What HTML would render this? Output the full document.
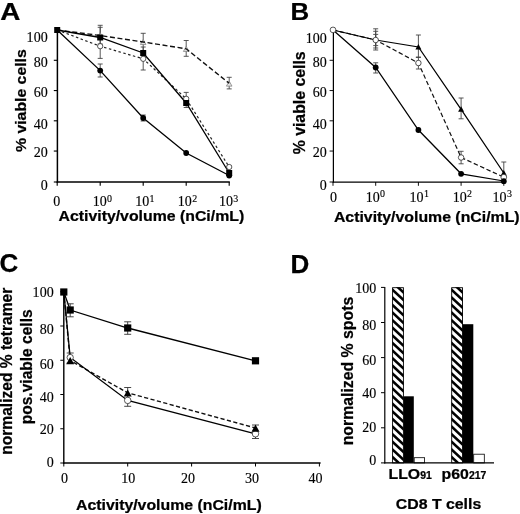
<!DOCTYPE html>
<html lang="en"><head><meta charset="utf-8"><title>Figure</title>
<style>html,body{margin:0;padding:0;background:#fff}svg{display:block}</style></head><body>
<svg width="520" height="514" viewBox="0 0 520 514">
<rect width="520" height="514" fill="#fff"/>
<text transform="translate(0.2,19.7) scale(1.2,1)" font-size="23.2" font-family="Liberation Sans, sans-serif" font-weight="bold" stroke="#000" stroke-width="0.25">A</text>
<text transform="translate(290.6,19.8) scale(1.1,1)" font-size="23.5" font-family="Liberation Sans, sans-serif" font-weight="bold" stroke="#000" stroke-width="0.25">B</text>
<text x="-0.4" y="272" font-size="26" font-family="Liberation Sans, sans-serif" font-weight="bold" stroke="#000" stroke-width="0.25" text-anchor="start">C</text>
<text x="290.5" y="272.9" font-size="26" font-family="Liberation Sans, sans-serif" font-weight="bold" stroke="#000" stroke-width="0.25" text-anchor="start">D</text>
<line x1="57.400000000000006" y1="30" x2="57.400000000000006" y2="182.75" stroke="#000" stroke-width="1.5"/>
<line x1="56.650000000000006" y1="182.0" x2="229.79999999999998" y2="182.0" stroke="#000" stroke-width="1.5"/>
<line x1="53.800000000000004" y1="182.0" x2="57.2" y2="182.0" stroke="#000" stroke-width="1.125"/>
<line x1="53.800000000000004" y1="151.05" x2="57.2" y2="151.05" stroke="#000" stroke-width="1.125"/>
<line x1="53.800000000000004" y1="120.80000000000001" x2="57.2" y2="120.80000000000001" stroke="#000" stroke-width="1.125"/>
<line x1="53.800000000000004" y1="90.55000000000001" x2="57.2" y2="90.55000000000001" stroke="#000" stroke-width="1.125"/>
<line x1="53.800000000000004" y1="60.30000000000001" x2="57.2" y2="60.30000000000001" stroke="#000" stroke-width="1.125"/>
<line x1="57.2" y1="182.0" x2="57.2" y2="185.8" stroke="#000" stroke-width="1.125"/>
<line x1="100.2" y1="182.0" x2="100.2" y2="185.8" stroke="#000" stroke-width="1.125"/>
<line x1="143.2" y1="182.0" x2="143.2" y2="185.8" stroke="#000" stroke-width="1.125"/>
<line x1="186.2" y1="182.0" x2="186.2" y2="185.8" stroke="#000" stroke-width="1.125"/>
<line x1="229.2" y1="182.0" x2="229.2" y2="185.8" stroke="#000" stroke-width="1.125"/>
<text transform="translate(47.7,190.4) scale(0.95,1)" font-size="14.8" font-family="Liberation Serif, serif" stroke="#000" stroke-width="0.15" text-anchor="end" >0</text>
<text transform="translate(47.7,157) scale(0.95,1)" font-size="14.8" font-family="Liberation Serif, serif" stroke="#000" stroke-width="0.15" text-anchor="end" >20</text>
<text transform="translate(47.7,128.6) scale(0.95,1)" font-size="14.8" font-family="Liberation Serif, serif" stroke="#000" stroke-width="0.15" text-anchor="end" >40</text>
<text transform="translate(47.7,97) scale(0.95,1)" font-size="14.8" font-family="Liberation Serif, serif" stroke="#000" stroke-width="0.15" text-anchor="end" >60</text>
<text transform="translate(47.7,66.8) scale(0.95,1)" font-size="14.8" font-family="Liberation Serif, serif" stroke="#000" stroke-width="0.15" text-anchor="end" >80</text>
<text transform="translate(47.7,42.2) scale(0.95,1)" font-size="14.8" font-family="Liberation Serif, serif" stroke="#000" stroke-width="0.15" text-anchor="end" >100</text>
<text transform="translate(56.800000000000004,205.8) scale(0.95,1)" font-size="14.8" font-family="Liberation Serif, serif" stroke="#000" stroke-width="0.15" text-anchor="middle" >0</text>
<text transform="translate(92.7,205.8) scale(0.95,1)" font-size="14.8" font-family="Liberation Serif, serif" stroke="#000" stroke-width="0.15" text-anchor="start">10<tspan font-size="10.5" dy="-4.3" dx="0.4">0</tspan></text>
<text transform="translate(135.15,205.8) scale(0.95,1)" font-size="14.8" font-family="Liberation Serif, serif" stroke="#000" stroke-width="0.15" text-anchor="start">10<tspan font-size="10.5" dy="-4.3" dx="0.4">1</tspan></text>
<text transform="translate(177.8,205.8) scale(0.95,1)" font-size="14.8" font-family="Liberation Serif, serif" stroke="#000" stroke-width="0.15" text-anchor="start">10<tspan font-size="10.5" dy="-4.3" dx="0.4">2</tspan></text>
<text transform="translate(218.95,205.8) scale(0.95,1)" font-size="14.8" font-family="Liberation Serif, serif" stroke="#000" stroke-width="0.15" text-anchor="start">10<tspan font-size="10.5" dy="-4.3" dx="0.4">3</tspan></text>
<text transform="translate(58.5,221.3) scale(1.043,1)" font-size="15.2" font-family="Liberation Sans, sans-serif" font-weight="bold" stroke="#000" stroke-width="0.25" text-anchor="start">Activity/volume (nCi/mL)</text>
<text transform="translate(25.6,152) rotate(-90) scale(1.04,1)" font-size="15.2" font-family="Liberation Sans, sans-serif" font-weight="bold" stroke="#000" stroke-width="0.25" text-anchor="start">% viable cells</text>
<line x1="100.2" y1="25.3" x2="100.2" y2="46" stroke="#444" stroke-width="0.9"/>
<line x1="97.7" y1="25.3" x2="102.7" y2="25.3" stroke="#444" stroke-width="0.9"/>
<line x1="97.7" y1="46" x2="102.7" y2="46" stroke="#444" stroke-width="0.9"/>
<line x1="100.2" y1="27.3" x2="100.2" y2="44" stroke="#444" stroke-width="0.9"/>
<line x1="97.7" y1="27.3" x2="102.7" y2="27.3" stroke="#444" stroke-width="0.9"/>
<line x1="97.7" y1="44" x2="102.7" y2="44" stroke="#444" stroke-width="0.9"/>
<line x1="100.2" y1="46" x2="100.2" y2="58.4" stroke="#444" stroke-width="0.9"/>
<line x1="97.7" y1="46" x2="102.7" y2="46" stroke="#444" stroke-width="0.9"/>
<line x1="97.7" y1="58.4" x2="102.7" y2="58.4" stroke="#444" stroke-width="0.9"/>
<line x1="100.2" y1="64" x2="100.2" y2="77" stroke="#444" stroke-width="0.9"/>
<line x1="97.7" y1="64" x2="102.7" y2="64" stroke="#444" stroke-width="0.9"/>
<line x1="97.7" y1="77" x2="102.7" y2="77" stroke="#444" stroke-width="0.9"/>
<line x1="143.2" y1="33.3" x2="143.2" y2="51.3" stroke="#444" stroke-width="0.9"/>
<line x1="140.7" y1="33.3" x2="145.7" y2="33.3" stroke="#444" stroke-width="0.9"/>
<line x1="140.7" y1="51.3" x2="145.7" y2="51.3" stroke="#444" stroke-width="0.9"/>
<line x1="143.2" y1="47" x2="143.2" y2="70" stroke="#444" stroke-width="0.9"/>
<line x1="140.7" y1="47" x2="145.7" y2="47" stroke="#444" stroke-width="0.9"/>
<line x1="140.7" y1="70" x2="145.7" y2="70" stroke="#444" stroke-width="0.9"/>
<line x1="143.2" y1="115" x2="143.2" y2="121" stroke="#444" stroke-width="0.9"/>
<line x1="140.7" y1="115" x2="145.7" y2="115" stroke="#444" stroke-width="0.9"/>
<line x1="140.7" y1="121" x2="145.7" y2="121" stroke="#444" stroke-width="0.9"/>
<line x1="186.2" y1="40.5" x2="186.2" y2="56.3" stroke="#444" stroke-width="0.9"/>
<line x1="183.7" y1="40.5" x2="188.7" y2="40.5" stroke="#444" stroke-width="0.9"/>
<line x1="183.7" y1="56.3" x2="188.7" y2="56.3" stroke="#444" stroke-width="0.9"/>
<line x1="186.2" y1="92.4" x2="186.2" y2="107.5" stroke="#444" stroke-width="0.9"/>
<line x1="183.7" y1="92.4" x2="188.7" y2="92.4" stroke="#444" stroke-width="0.9"/>
<line x1="183.7" y1="107.5" x2="188.7" y2="107.5" stroke="#444" stroke-width="0.9"/>
<line x1="229.2" y1="77.3" x2="229.2" y2="88.9" stroke="#444" stroke-width="0.9"/>
<line x1="226.7" y1="77.3" x2="231.7" y2="77.3" stroke="#444" stroke-width="0.9"/>
<line x1="226.7" y1="88.9" x2="231.7" y2="88.9" stroke="#444" stroke-width="0.9"/>
<polygon points="100.2,32.7 97.4,37.74 103.0,37.74" fill="#e4e4e4" stroke="#777" stroke-width="0.7"/>
<polygon points="143.2,39.5 140.39999999999998,44.54 146.0,44.54" fill="#e4e4e4" stroke="#777" stroke-width="0.7"/>
<polygon points="186.2,46.400000000000006 183.39999999999998,51.440000000000005 189.0,51.440000000000005" fill="#e4e4e4" stroke="#777" stroke-width="0.7"/>
<polygon points="229.2,81.10000000000001 226.39999999999998,86.14 232.0,86.14" fill="#e4e4e4" stroke="#777" stroke-width="0.7"/>
<polyline points="57.2,30 100.2,35.5 143.2,42 186.2,48.8 229.2,83.3" fill="none" stroke="#111" stroke-width="1.4" stroke-dasharray="5,2.6"/>
<polyline points="57.2,30 100.2,46.2 143.2,58.8 186.2,98.8 229.2,167" fill="none" stroke="#222" stroke-width="1.2" stroke-dasharray="2.5,2.5"/>
<polyline points="57.2,30 100.2,37.5 143.2,53 186.2,103 229.2,173" fill="none" stroke="#000" stroke-width="1.3"/>
<polyline points="57.2,30 100.2,70.6 143.2,118 186.2,153 229.2,175.5" fill="none" stroke="#000" stroke-width="1.3"/>
<circle cx="100.2" cy="46.2" r="2.65" fill="#fff" stroke="#111" stroke-width="0.7"/>
<circle cx="143.2" cy="58.8" r="2.65" fill="#fff" stroke="#111" stroke-width="0.7"/>
<circle cx="186.2" cy="98.8" r="2.65" fill="#fff" stroke="#111" stroke-width="0.7"/>
<circle cx="229.2" cy="167" r="2.65" fill="#fff" stroke="#111" stroke-width="0.7"/>
<rect x="54.2" y="27.0" width="6" height="6" fill="#000"/>
<rect x="97.2" y="34.5" width="6" height="6" fill="#000"/>
<rect x="140.2" y="50.0" width="6" height="6" fill="#000"/>
<rect x="183.2" y="100.0" width="6" height="6" fill="#000"/>
<rect x="226.2" y="170.0" width="6" height="6" fill="#000"/>
<circle cx="100.2" cy="70.6" r="2.9" fill="#000"/>
<circle cx="143.2" cy="118" r="2.9" fill="#000"/>
<circle cx="186.2" cy="153" r="2.9" fill="#000"/>
<circle cx="229.2" cy="175.5" r="2.9" fill="#000"/>
<line x1="333.4" y1="30" x2="333.4" y2="182.625" stroke="#000" stroke-width="1.25"/>
<line x1="332.775" y1="182.0" x2="504.40000000000003" y2="182.0" stroke="#000" stroke-width="1.25"/>
<line x1="329.6" y1="182.0" x2="333.0" y2="182.0" stroke="#000" stroke-width="0.9375"/>
<line x1="329.6" y1="151.05" x2="333.0" y2="151.05" stroke="#000" stroke-width="0.9375"/>
<line x1="329.6" y1="120.80000000000001" x2="333.0" y2="120.80000000000001" stroke="#000" stroke-width="0.9375"/>
<line x1="329.6" y1="90.55000000000001" x2="333.0" y2="90.55000000000001" stroke="#000" stroke-width="0.9375"/>
<line x1="329.6" y1="60.30000000000001" x2="333.0" y2="60.30000000000001" stroke="#000" stroke-width="0.9375"/>
<line x1="333.0" y1="182.0" x2="333.0" y2="185.8" stroke="#000" stroke-width="0.9375"/>
<line x1="375.7" y1="182.0" x2="375.7" y2="185.8" stroke="#000" stroke-width="0.9375"/>
<line x1="418.4" y1="182.0" x2="418.4" y2="185.8" stroke="#000" stroke-width="0.9375"/>
<line x1="461.1" y1="182.0" x2="461.1" y2="185.8" stroke="#000" stroke-width="0.9375"/>
<line x1="503.8" y1="182.0" x2="503.8" y2="185.8" stroke="#000" stroke-width="0.9375"/>
<text transform="translate(326.8,190.4) scale(0.95,1)" font-size="14.8" font-family="Liberation Serif, serif" stroke="#000" stroke-width="0.15" text-anchor="end" >0</text>
<text transform="translate(326.8,157) scale(0.95,1)" font-size="14.8" font-family="Liberation Serif, serif" stroke="#000" stroke-width="0.15" text-anchor="end" >20</text>
<text transform="translate(326.8,128.6) scale(0.95,1)" font-size="14.8" font-family="Liberation Serif, serif" stroke="#000" stroke-width="0.15" text-anchor="end" >40</text>
<text transform="translate(326.8,97.4) scale(0.95,1)" font-size="14.8" font-family="Liberation Serif, serif" stroke="#000" stroke-width="0.15" text-anchor="end" >60</text>
<text transform="translate(326.8,67.4) scale(0.95,1)" font-size="14.8" font-family="Liberation Serif, serif" stroke="#000" stroke-width="0.15" text-anchor="end" >80</text>
<text transform="translate(326.8,42.7) scale(0.95,1)" font-size="14.8" font-family="Liberation Serif, serif" stroke="#000" stroke-width="0.15" text-anchor="end" >100</text>
<text transform="translate(333.6,201.7) scale(0.95,1)" font-size="14.8" font-family="Liberation Serif, serif" stroke="#000" stroke-width="0.15" text-anchor="middle" >0</text>
<text transform="translate(365.7,201.7) scale(0.95,1)" font-size="14.8" font-family="Liberation Serif, serif" stroke="#000" stroke-width="0.15" text-anchor="start">10<tspan font-size="10.5" dy="-4.3" dx="0.4">0</tspan></text>
<text transform="translate(409.5,201.7) scale(0.95,1)" font-size="14.8" font-family="Liberation Serif, serif" stroke="#000" stroke-width="0.15" text-anchor="start">10<tspan font-size="10.5" dy="-4.3" dx="0.4">1</tspan></text>
<text transform="translate(452.7,201.7) scale(0.95,1)" font-size="14.8" font-family="Liberation Serif, serif" stroke="#000" stroke-width="0.15" text-anchor="start">10<tspan font-size="10.5" dy="-4.3" dx="0.4">2</tspan></text>
<text transform="translate(492.5,201.7) scale(0.95,1)" font-size="14.8" font-family="Liberation Serif, serif" stroke="#000" stroke-width="0.15" text-anchor="start">10<tspan font-size="10.5" dy="-4.3" dx="0.4">3</tspan></text>
<text transform="translate(333.9,221.5) scale(1.043,1)" font-size="15.2" font-family="Liberation Sans, sans-serif" font-weight="bold" stroke="#000" stroke-width="0.25" text-anchor="start">Activity/volume (nCi/mL)</text>
<text transform="translate(305.2,154.3) rotate(-90) scale(0.965,1)" font-size="16.4" font-family="Liberation Sans, sans-serif" font-weight="bold" stroke="#000" stroke-width="0.25" text-anchor="start">% viable cells</text>
<polyline points="333.0,30 375.7,40 418.4,63 461.1,157.5 503.8,177.2" fill="none" stroke="#111" stroke-width="1.2" stroke-dasharray="4.5,2.5"/>
<polyline points="333.0,30 375.7,40 418.4,47 461.1,109.3 503.8,173" fill="none" stroke="#000" stroke-width="1.25"/>
<polyline points="333.0,30 375.7,67.5 418.4,130 461.1,173.8 503.8,181" fill="none" stroke="#000" stroke-width="1.25"/>
<line x1="375.7" y1="28.8" x2="375.7" y2="50" stroke="#444" stroke-width="0.9"/>
<line x1="373.2" y1="28.8" x2="378.2" y2="28.8" stroke="#444" stroke-width="0.9"/>
<line x1="373.2" y1="50" x2="378.2" y2="50" stroke="#444" stroke-width="0.9"/>
<line x1="375.7" y1="31.3" x2="375.7" y2="48" stroke="#444" stroke-width="0.9"/>
<line x1="373.2" y1="31.3" x2="378.2" y2="31.3" stroke="#444" stroke-width="0.9"/>
<line x1="373.2" y1="48" x2="378.2" y2="48" stroke="#444" stroke-width="0.9"/>
<line x1="375.7" y1="34.4" x2="375.7" y2="45.6" stroke="#444" stroke-width="0.9"/>
<line x1="373.2" y1="34.4" x2="378.2" y2="34.4" stroke="#444" stroke-width="0.9"/>
<line x1="373.2" y1="45.6" x2="378.2" y2="45.6" stroke="#444" stroke-width="0.9"/>
<line x1="375.7" y1="62.8" x2="375.7" y2="73" stroke="#444" stroke-width="0.9"/>
<line x1="373.2" y1="62.8" x2="378.2" y2="62.8" stroke="#444" stroke-width="0.9"/>
<line x1="373.2" y1="73" x2="378.2" y2="73" stroke="#444" stroke-width="0.9"/>
<line x1="418.4" y1="35" x2="418.4" y2="57.5" stroke="#444" stroke-width="0.9"/>
<line x1="415.9" y1="35" x2="420.9" y2="35" stroke="#444" stroke-width="0.9"/>
<line x1="415.9" y1="57.5" x2="420.9" y2="57.5" stroke="#444" stroke-width="0.9"/>
<line x1="418.4" y1="57" x2="418.4" y2="69" stroke="#444" stroke-width="0.9"/>
<line x1="415.9" y1="57" x2="420.9" y2="57" stroke="#444" stroke-width="0.9"/>
<line x1="415.9" y1="69" x2="420.9" y2="69" stroke="#444" stroke-width="0.9"/>
<line x1="461.1" y1="98" x2="461.1" y2="118.8" stroke="#444" stroke-width="0.9"/>
<line x1="458.6" y1="98" x2="463.6" y2="98" stroke="#444" stroke-width="0.9"/>
<line x1="458.6" y1="118.8" x2="463.6" y2="118.8" stroke="#444" stroke-width="0.9"/>
<line x1="461.1" y1="151.3" x2="461.1" y2="163.8" stroke="#444" stroke-width="0.9"/>
<line x1="458.6" y1="151.3" x2="463.6" y2="151.3" stroke="#444" stroke-width="0.9"/>
<line x1="458.6" y1="163.8" x2="463.6" y2="163.8" stroke="#444" stroke-width="0.9"/>
<line x1="503.8" y1="162" x2="503.8" y2="176" stroke="#444" stroke-width="0.9"/>
<line x1="501.3" y1="162" x2="506.3" y2="162" stroke="#444" stroke-width="0.9"/>
<line x1="501.3" y1="176" x2="506.3" y2="176" stroke="#444" stroke-width="0.9"/>
<polygon points="418.4,44 415.4,49.4 421.4,49.4" fill="#000"/>
<polygon points="461.1,106.3 458.1,111.7 464.1,111.7" fill="#000"/>
<polygon points="503.8,170 500.8,175.4 506.8,175.4" fill="#000"/>
<circle cx="333.0" cy="29.9" r="2.85" fill="#fff" stroke="#111" stroke-width="0.7"/>
<circle cx="375.7" cy="40" r="2.75" fill="#fff" stroke="#111" stroke-width="0.7"/>
<circle cx="418.4" cy="63" r="2.75" fill="#fff" stroke="#111" stroke-width="0.7"/>
<circle cx="461.1" cy="157.5" r="2.75" fill="#fff" stroke="#111" stroke-width="0.7"/>
<circle cx="503.8" cy="177.2" r="2.85" fill="#fff" stroke="#111" stroke-width="0.7"/>
<circle cx="375.7" cy="67.5" r="2.9" fill="#000"/>
<circle cx="418.4" cy="130" r="2.9" fill="#000"/>
<circle cx="461.1" cy="173.8" r="2.9" fill="#000"/>
<circle cx="503.8" cy="181.2" r="2.9" fill="#000"/>
<line x1="63.8" y1="291" x2="63.8" y2="463.7" stroke="#000" stroke-width="1.4"/>
<line x1="63.099999999999994" y1="463" x2="320.6" y2="463" stroke="#000" stroke-width="1.4"/>
<line x1="60.3" y1="463.0" x2="63.8" y2="463.0" stroke="#000" stroke-width="1"/>
<line x1="60.3" y1="428.75" x2="63.8" y2="428.75" stroke="#000" stroke-width="1"/>
<line x1="60.3" y1="394.5" x2="63.8" y2="394.5" stroke="#000" stroke-width="1"/>
<line x1="60.3" y1="360.25" x2="63.8" y2="360.25" stroke="#000" stroke-width="1"/>
<line x1="60.3" y1="326.0" x2="63.8" y2="326.0" stroke="#000" stroke-width="1"/>
<line x1="60.3" y1="291.75" x2="63.8" y2="291.75" stroke="#000" stroke-width="1"/>
<line x1="63.8" y1="463" x2="63.8" y2="466.5" stroke="#000" stroke-width="1"/>
<text transform="translate(64.5,483.3) scale(0.95,1)" font-size="14.8" font-family="Liberation Serif, serif" stroke="#000" stroke-width="0.15" text-anchor="middle" >0</text>
<line x1="127.7" y1="463" x2="127.7" y2="466.5" stroke="#000" stroke-width="1"/>
<text transform="translate(128.2,483.3) scale(0.95,1)" font-size="14.8" font-family="Liberation Serif, serif" stroke="#000" stroke-width="0.15" text-anchor="middle" >10</text>
<line x1="191.6" y1="463" x2="191.6" y2="466.5" stroke="#000" stroke-width="1"/>
<text transform="translate(187.9,483.3) scale(0.95,1)" font-size="14.8" font-family="Liberation Serif, serif" stroke="#000" stroke-width="0.15" text-anchor="middle" >20</text>
<line x1="255.5" y1="463" x2="255.5" y2="466.5" stroke="#000" stroke-width="1"/>
<text transform="translate(252.0,483.3) scale(0.95,1)" font-size="14.8" font-family="Liberation Serif, serif" stroke="#000" stroke-width="0.15" text-anchor="middle" >30</text>
<line x1="319.4" y1="463" x2="319.4" y2="466.5" stroke="#000" stroke-width="1"/>
<text transform="translate(315.5,483.3) scale(0.95,1)" font-size="14.8" font-family="Liberation Serif, serif" stroke="#000" stroke-width="0.15" text-anchor="middle" >40</text>
<text transform="translate(53.7,467.4) scale(0.95,1)" font-size="14.8" font-family="Liberation Serif, serif" stroke="#000" stroke-width="0.15" text-anchor="end" >0</text>
<text transform="translate(53.7,434.4) scale(0.95,1)" font-size="14.8" font-family="Liberation Serif, serif" stroke="#000" stroke-width="0.15" text-anchor="end" >20</text>
<text transform="translate(53.7,401.9) scale(0.95,1)" font-size="14.8" font-family="Liberation Serif, serif" stroke="#000" stroke-width="0.15" text-anchor="end" >40</text>
<text transform="translate(53.7,368.9) scale(0.95,1)" font-size="14.8" font-family="Liberation Serif, serif" stroke="#000" stroke-width="0.15" text-anchor="end" >60</text>
<text transform="translate(53.7,333.9) scale(0.95,1)" font-size="14.8" font-family="Liberation Serif, serif" stroke="#000" stroke-width="0.15" text-anchor="end" >80</text>
<text transform="translate(53.7,297.4) scale(0.95,1)" font-size="14.8" font-family="Liberation Serif, serif" stroke="#000" stroke-width="0.15" text-anchor="end" >100</text>
<text transform="translate(76,509.5) scale(1.043,1)" font-size="15.2" font-family="Liberation Sans, sans-serif" font-weight="bold" stroke="#000" stroke-width="0.25" text-anchor="start">Activity/volume (nCi/mL)</text>
<text transform="translate(12.3,454.8) rotate(-90) scale(0.956,1)" font-size="16.3" font-family="Liberation Sans, sans-serif" font-weight="bold" stroke="#000" stroke-width="0.25" text-anchor="start">normalized % tetramer</text>
<text transform="translate(31.7,424.3) rotate(-90) scale(0.955,1)" font-size="16.3" font-family="Liberation Sans, sans-serif" font-weight="bold" stroke="#000" stroke-width="0.25" text-anchor="start">pos.viable cells</text>
<polyline points="63.8,292 70.19,360.5 127.7,392.8 255.5,428" fill="none" stroke="#111" stroke-width="1.4" stroke-dasharray="4.2,2.4"/>
<polyline points="63.8,292 70.19,357.5 127.7,400.4 255.5,433.8" fill="none" stroke="#000" stroke-width="1.3"/>
<polyline points="63.8,292 70.19,310 127.7,328 255.5,360.8" fill="none" stroke="#000" stroke-width="1.3"/>
<line x1="70.19" y1="303.8" x2="70.19" y2="316.8" stroke="#333" stroke-width="0.9"/>
<line x1="66.69" y1="303.8" x2="73.69" y2="303.8" stroke="#333" stroke-width="0.9"/>
<line x1="66.69" y1="316.8" x2="73.69" y2="316.8" stroke="#333" stroke-width="0.9"/>
<line x1="127.7" y1="321.8" x2="127.7" y2="334.3" stroke="#333" stroke-width="0.9"/>
<line x1="124.2" y1="321.8" x2="131.2" y2="321.8" stroke="#333" stroke-width="0.9"/>
<line x1="124.2" y1="334.3" x2="131.2" y2="334.3" stroke="#333" stroke-width="0.9"/>
<line x1="70.19" y1="353" x2="70.19" y2="363" stroke="#333" stroke-width="0.9"/>
<line x1="66.69" y1="353" x2="73.69" y2="353" stroke="#333" stroke-width="0.9"/>
<line x1="66.69" y1="363" x2="73.69" y2="363" stroke="#333" stroke-width="0.9"/>
<line x1="127.7" y1="387.5" x2="127.7" y2="406.3" stroke="#333" stroke-width="0.9"/>
<line x1="124.2" y1="387.5" x2="131.2" y2="387.5" stroke="#333" stroke-width="0.9"/>
<line x1="124.2" y1="406.3" x2="131.2" y2="406.3" stroke="#333" stroke-width="0.9"/>
<line x1="255.5" y1="425" x2="255.5" y2="438.5" stroke="#333" stroke-width="0.9"/>
<line x1="252.0" y1="425" x2="259.0" y2="425" stroke="#333" stroke-width="0.9"/>
<line x1="252.0" y1="438.5" x2="259.0" y2="438.5" stroke="#333" stroke-width="0.9"/>
<circle cx="70.19" cy="357.5" r="3.15" fill="#fff" stroke="#111" stroke-width="0.7"/>
<circle cx="127.7" cy="400.4" r="3.25" fill="#fff" stroke="#111" stroke-width="0.7"/>
<circle cx="255.5" cy="433.8" r="3.25" fill="#fff" stroke="#111" stroke-width="0.7"/>
<polygon points="70.19,357 66.19,364.2 74.19,364.2" fill="#000"/>
<polygon points="127.7,389.4 123.7,396.59999999999997 131.7,396.59999999999997" fill="#000"/>
<polygon points="255.5,424.6 251.5,431.8 259.5,431.8" fill="#000"/>
<rect x="60.199999999999996" y="288.4" width="7.2" height="7.2" fill="#000"/>
<rect x="66.59" y="306.4" width="7.2" height="7.2" fill="#000"/>
<rect x="124.10000000000001" y="324.4" width="7.2" height="7.2" fill="#000"/>
<rect x="251.9" y="357.2" width="7.2" height="7.2" fill="#000"/>
<defs><clipPath id="h1"><rect x="392.2" y="287.3" width="11.6" height="175.6"/></clipPath><clipPath id="h2"><rect x="451.3" y="287.3" width="11.6" height="175.6"/></clipPath></defs>
<rect x="392.2" y="287.3" width="11.6" height="175.6" fill="#fff"/>
<g clip-path="url(#h1)" fill="#000">
<polygon points="392.2,265.0 403.8,275.8 403.8,279.3 392.2,268.5"/>
<polygon points="392.2,272.6 403.8,283.4 403.8,286.9 392.2,276.1"/>
<polygon points="392.2,280.2 403.8,291.0 403.8,294.5 392.2,283.7"/>
<polygon points="392.2,287.8 403.8,298.6 403.8,302.1 392.2,291.3"/>
<polygon points="392.2,295.4 403.8,306.2 403.8,309.7 392.2,298.9"/>
<polygon points="392.2,303.0 403.8,313.8 403.8,317.3 392.2,306.5"/>
<polygon points="392.2,310.6 403.8,321.4 403.8,324.9 392.2,314.1"/>
<polygon points="392.2,318.2 403.8,329.0 403.8,332.5 392.2,321.7"/>
<polygon points="392.2,325.8 403.8,336.6 403.8,340.1 392.2,329.3"/>
<polygon points="392.2,333.4 403.8,344.2 403.8,347.7 392.2,336.9"/>
<polygon points="392.2,341.0 403.8,351.8 403.8,355.3 392.2,344.5"/>
<polygon points="392.2,348.6 403.8,359.4 403.8,362.9 392.2,352.1"/>
<polygon points="392.2,356.2 403.8,367.0 403.8,370.5 392.2,359.7"/>
<polygon points="392.2,363.8 403.8,374.6 403.8,378.1 392.2,367.3"/>
<polygon points="392.2,371.4 403.8,382.2 403.8,385.7 392.2,374.9"/>
<polygon points="392.2,379.0 403.8,389.8 403.8,393.3 392.2,382.5"/>
<polygon points="392.2,386.6 403.8,397.4 403.8,400.9 392.2,390.1"/>
<polygon points="392.2,394.2 403.8,405.0 403.8,408.5 392.2,397.7"/>
<polygon points="392.2,401.8 403.8,412.6 403.8,416.1 392.2,405.3"/>
<polygon points="392.2,409.4 403.8,420.2 403.8,423.7 392.2,412.9"/>
<polygon points="392.2,417.0 403.8,427.8 403.8,431.3 392.2,420.5"/>
<polygon points="392.2,424.6 403.8,435.4 403.8,438.9 392.2,428.1"/>
<polygon points="392.2,432.2 403.8,443.0 403.8,446.5 392.2,435.7"/>
<polygon points="392.2,439.8 403.8,450.6 403.8,454.1 392.2,443.3"/>
<polygon points="392.2,447.4 403.8,458.2 403.8,461.7 392.2,450.9"/>
<polygon points="392.2,455.0 403.8,465.8 403.8,469.3 392.2,458.5"/>
<polygon points="392.2,462.6 403.8,473.4 403.8,476.9 392.2,466.1"/>
</g>
<rect x="392.59999999999997" y="287.7" width="10.8" height="175.2" fill="none" stroke="#000" stroke-width="0.9"/>
<rect x="451.3" y="287.3" width="11.6" height="175.6" fill="#fff"/>
<g clip-path="url(#h2)" fill="#000">
<polygon points="451.3,265.0 462.90000000000003,275.8 462.90000000000003,279.3 451.3,268.5"/>
<polygon points="451.3,272.6 462.90000000000003,283.4 462.90000000000003,286.9 451.3,276.1"/>
<polygon points="451.3,280.2 462.90000000000003,291.0 462.90000000000003,294.5 451.3,283.7"/>
<polygon points="451.3,287.8 462.90000000000003,298.6 462.90000000000003,302.1 451.3,291.3"/>
<polygon points="451.3,295.4 462.90000000000003,306.2 462.90000000000003,309.7 451.3,298.9"/>
<polygon points="451.3,303.0 462.90000000000003,313.8 462.90000000000003,317.3 451.3,306.5"/>
<polygon points="451.3,310.6 462.90000000000003,321.4 462.90000000000003,324.9 451.3,314.1"/>
<polygon points="451.3,318.2 462.90000000000003,329.0 462.90000000000003,332.5 451.3,321.7"/>
<polygon points="451.3,325.8 462.90000000000003,336.6 462.90000000000003,340.1 451.3,329.3"/>
<polygon points="451.3,333.4 462.90000000000003,344.2 462.90000000000003,347.7 451.3,336.9"/>
<polygon points="451.3,341.0 462.90000000000003,351.8 462.90000000000003,355.3 451.3,344.5"/>
<polygon points="451.3,348.6 462.90000000000003,359.4 462.90000000000003,362.9 451.3,352.1"/>
<polygon points="451.3,356.2 462.90000000000003,367.0 462.90000000000003,370.5 451.3,359.7"/>
<polygon points="451.3,363.8 462.90000000000003,374.6 462.90000000000003,378.1 451.3,367.3"/>
<polygon points="451.3,371.4 462.90000000000003,382.2 462.90000000000003,385.7 451.3,374.9"/>
<polygon points="451.3,379.0 462.90000000000003,389.8 462.90000000000003,393.3 451.3,382.5"/>
<polygon points="451.3,386.6 462.90000000000003,397.4 462.90000000000003,400.9 451.3,390.1"/>
<polygon points="451.3,394.2 462.90000000000003,405.0 462.90000000000003,408.5 451.3,397.7"/>
<polygon points="451.3,401.8 462.90000000000003,412.6 462.90000000000003,416.1 451.3,405.3"/>
<polygon points="451.3,409.4 462.90000000000003,420.2 462.90000000000003,423.7 451.3,412.9"/>
<polygon points="451.3,417.0 462.90000000000003,427.8 462.90000000000003,431.3 451.3,420.5"/>
<polygon points="451.3,424.6 462.90000000000003,435.4 462.90000000000003,438.9 451.3,428.1"/>
<polygon points="451.3,432.2 462.90000000000003,443.0 462.90000000000003,446.5 451.3,435.7"/>
<polygon points="451.3,439.8 462.90000000000003,450.6 462.90000000000003,454.1 451.3,443.3"/>
<polygon points="451.3,447.4 462.90000000000003,458.2 462.90000000000003,461.7 451.3,450.9"/>
<polygon points="451.3,455.0 462.90000000000003,465.8 462.90000000000003,469.3 451.3,458.5"/>
<polygon points="451.3,462.6 462.90000000000003,473.4 462.90000000000003,476.9 451.3,466.1"/>
</g>
<rect x="451.7" y="287.7" width="10.8" height="175.2" fill="none" stroke="#000" stroke-width="0.9"/>
<rect x="403.8" y="396.3" width="10" height="66.59999999999997" fill="#000"/>
<rect x="462.9" y="324.2" width="10.4" height="138.7" fill="#000"/>
<rect x="414.2" y="457.7" width="10.4" height="5.199999999999989" fill="#fff" stroke="#000" stroke-width="0.8"/>
<rect x="473.7" y="454.2" width="10.6" height="8.699999999999989" fill="#fff" stroke="#000" stroke-width="0.8"/>
<line x1="384.8" y1="287" x2="384.8" y2="463.5" stroke="#000" stroke-width="1.2"/>
<line x1="384.2" y1="462.9" x2="494" y2="462.9" stroke="#000" stroke-width="1.2"/>
<line x1="381.0" y1="462.9" x2="384.8" y2="462.9" stroke="#000" stroke-width="1"/>
<line x1="381.0" y1="427.8" x2="384.8" y2="427.8" stroke="#000" stroke-width="1"/>
<line x1="381.0" y1="392.7" x2="384.8" y2="392.7" stroke="#000" stroke-width="1"/>
<line x1="381.0" y1="357.6" x2="384.8" y2="357.6" stroke="#000" stroke-width="1"/>
<line x1="381.0" y1="322.5" x2="384.8" y2="322.5" stroke="#000" stroke-width="1"/>
<line x1="381.0" y1="287.4" x2="384.8" y2="287.4" stroke="#000" stroke-width="1"/>
<text transform="translate(376.3,465.2) scale(0.95,1)" font-size="14.8" font-family="Liberation Serif, serif" stroke="#000" stroke-width="0.15" text-anchor="end" >0</text>
<text transform="translate(376.3,431.9) scale(0.95,1)" font-size="14.8" font-family="Liberation Serif, serif" stroke="#000" stroke-width="0.15" text-anchor="end" >20</text>
<text transform="translate(376.3,398) scale(0.95,1)" font-size="14.8" font-family="Liberation Serif, serif" stroke="#000" stroke-width="0.15" text-anchor="end" >40</text>
<text transform="translate(376.3,364.5) scale(0.95,1)" font-size="14.8" font-family="Liberation Serif, serif" stroke="#000" stroke-width="0.15" text-anchor="end" >60</text>
<text transform="translate(376.3,329.8) scale(0.95,1)" font-size="14.8" font-family="Liberation Serif, serif" stroke="#000" stroke-width="0.15" text-anchor="end" >80</text>
<text transform="translate(376.3,293.3) scale(0.95,1)" font-size="14.8" font-family="Liberation Serif, serif" stroke="#000" stroke-width="0.15" text-anchor="end" >100</text>
<text transform="translate(353.1,445.3) rotate(-90) scale(0.9645,1)" font-size="16.4" font-family="Liberation Sans, sans-serif" font-weight="bold" stroke="#000" stroke-width="0.25" text-anchor="start">normalized % spots</text>
<text transform="translate(388.5,478.7) scale(1.043,1)" font-size="15.2" font-family="Liberation Sans, sans-serif" font-weight="bold" stroke="#000" stroke-width="0.25">LLO<tspan font-size="10">91</tspan></text>
<text transform="translate(441.6,478.7) scale(1.043,1)" font-size="15.2" font-family="Liberation Sans, sans-serif" font-weight="bold" stroke="#000" stroke-width="0.25">p60<tspan font-size="10">217</tspan></text>
<text transform="translate(395.8,509.3) scale(1.043,1)" font-size="15.2" font-family="Liberation Sans, sans-serif" font-weight="bold" stroke="#000" stroke-width="0.25" text-anchor="start">CD8 T cells</text>
</svg></body></html>
